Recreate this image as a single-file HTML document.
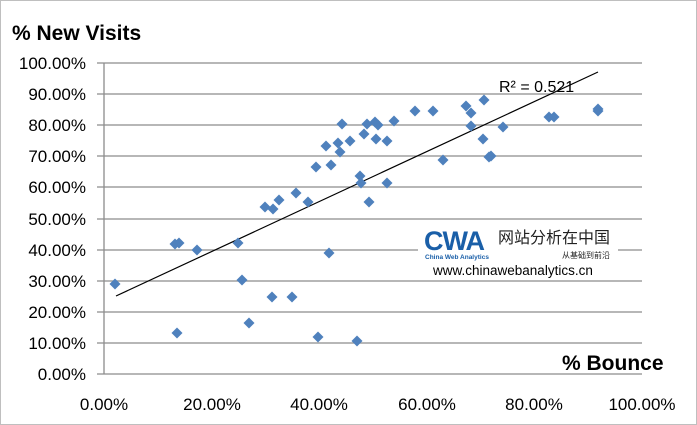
<!DOCTYPE html>
<html><head><meta charset="utf-8"><style>
body{margin:0;background:#fff}
svg{display:block;font-family:"Liberation Sans","Noto Sans CJK SC",sans-serif}
</style></head><body>
<svg width="697" height="425" viewBox="0 0 697 425">
<rect x="0.5" y="0.5" width="696" height="424" fill="#fff" stroke="#bfbfbf"/>
<g stroke="#8c8c8c" stroke-width="1.3">
<line x1="97" x2="642" y1="63" y2="63"/>
<line x1="97" x2="642" y1="94" y2="94"/>
<line x1="97" x2="642" y1="125" y2="125"/>
<line x1="97" x2="642" y1="156" y2="156"/>
<line x1="97" x2="642" y1="187" y2="187"/>
<line x1="97" x2="642" y1="219" y2="219"/>
<line x1="97" x2="642" y1="250" y2="250"/>
<line x1="97" x2="642" y1="281" y2="281"/>
<line x1="97" x2="642" y1="312" y2="312"/>
<line x1="97" x2="642" y1="343" y2="343"/>
<line x1="97" x2="642" y1="374" y2="374"/>
<line x1="104" x2="104" y1="63" y2="374"/>
</g>
<g font-size="17" fill="#000" text-anchor="end">
<text x="86" y="69">100.00%</text><text x="86" y="100">90.00%</text><text x="86" y="131">80.00%</text>
<text x="86" y="162">70.00%</text><text x="86" y="193">60.00%</text><text x="86" y="225">50.00%</text>
<text x="86" y="256">40.00%</text><text x="86" y="287">30.00%</text><text x="86" y="318">20.00%</text>
<text x="86" y="349">10.00%</text><text x="86" y="380">0.00%</text>
</g>
<g font-size="17" fill="#000" text-anchor="middle">
<text x="104" y="410">0.00%</text><text x="212" y="410">20.00%</text><text x="319" y="410">40.00%</text>
<text x="427" y="410">60.00%</text><text x="534" y="410">80.00%</text><text x="642" y="410">100.00%</text>
</g>
<text x="12" y="40" font-size="21" font-weight="bold">% New Visits</text>
<text x="562" y="370" font-size="21" font-weight="bold">% Bounce</text>
<rect x="418" y="226" width="200" height="54" fill="#fff"/>
<text x="424" y="250" font-size="27" font-weight="900" fill="#1a5fa8" letter-spacing="-1">CWA</text>
<text x="425" y="259" font-size="6.5" fill="#1a5fa8" font-weight="bold">China Web Analytics</text>
<text x="498" y="243" font-size="16" fill="#222">网站分析在中国</text>
<text x="610" y="258" font-size="8" fill="#222" text-anchor="end">从基础到前沿</text>
<text x="433" y="275" font-size="13.5" fill="#000">www.chinawebanalytics.cn</text>
<line x1="116" y1="296" x2="598" y2="72" stroke="#000" stroke-width="1.2"/>
<text x="499" y="92" font-size="16">R² = 0.521</text>
<g fill="#4f81bd">
<path id="d" d="M0,-5.5L5.5,0L0,5.5L-5.5,0Z" transform="translate(115,284)"/>
<use href="#d" x="60" y="-40"/><use href="#d" x="64" y="-41"/><use href="#d" x="82" y="-34"/>
<use href="#d" x="62" y="49"/><use href="#d" x="123" y="-41"/><use href="#d" x="127" y="-4"/>
<use href="#d" x="134" y="39"/><use href="#d" x="150" y="-77"/><use href="#d" x="158" y="-75"/>
<use href="#d" x="164" y="-84"/><use href="#d" x="181" y="-91"/><use href="#d" x="193" y="-82"/>
<use href="#d" x="157" y="13"/><use href="#d" x="177" y="13"/><use href="#d" x="203" y="53"/>
<use href="#d" x="201" y="-117"/><use href="#d" x="216" y="-119"/><use href="#d" x="245" y="-108"/>
<use href="#d" x="246" y="-101"/><use href="#d" x="272" y="-101"/><use href="#d" x="211" y="-138"/>
<use href="#d" x="223" y="-141"/><use href="#d" x="225" y="-132"/><use href="#d" x="235" y="-143"/>
<use href="#d" x="227" y="-160"/><use href="#d" x="249" y="-150"/><use href="#d" x="252" y="-160"/>
<use href="#d" x="260" y="-162"/><use href="#d" x="263" y="-159"/><use href="#d" x="261" y="-145"/>
<use href="#d" x="272" y="-143"/><use href="#d" x="279" y="-163"/><use href="#d" x="254" y="-82"/>
<use href="#d" x="300" y="-173"/><use href="#d" x="318" y="-173"/><use href="#d" x="328" y="-124"/>
<use href="#d" x="351" y="-178"/><use href="#d" x="356" y="-171"/><use href="#d" x="369" y="-184"/>
<use href="#d" x="356" y="-158"/><use href="#d" x="368" y="-145"/><use href="#d" x="388" y="-157"/>
<use href="#d" x="374" y="-127"/><use href="#d" x="376" y="-128"/><use href="#d" x="434" y="-167"/>
<use href="#d" x="439" y="-167"/><use href="#d" x="483" y="-175"/><use href="#d" x="483" y="-173"/>
<use href="#d" x="242" y="57"/><use href="#d" x="214" y="-31"/>
</g>
</svg>
</body></html>
